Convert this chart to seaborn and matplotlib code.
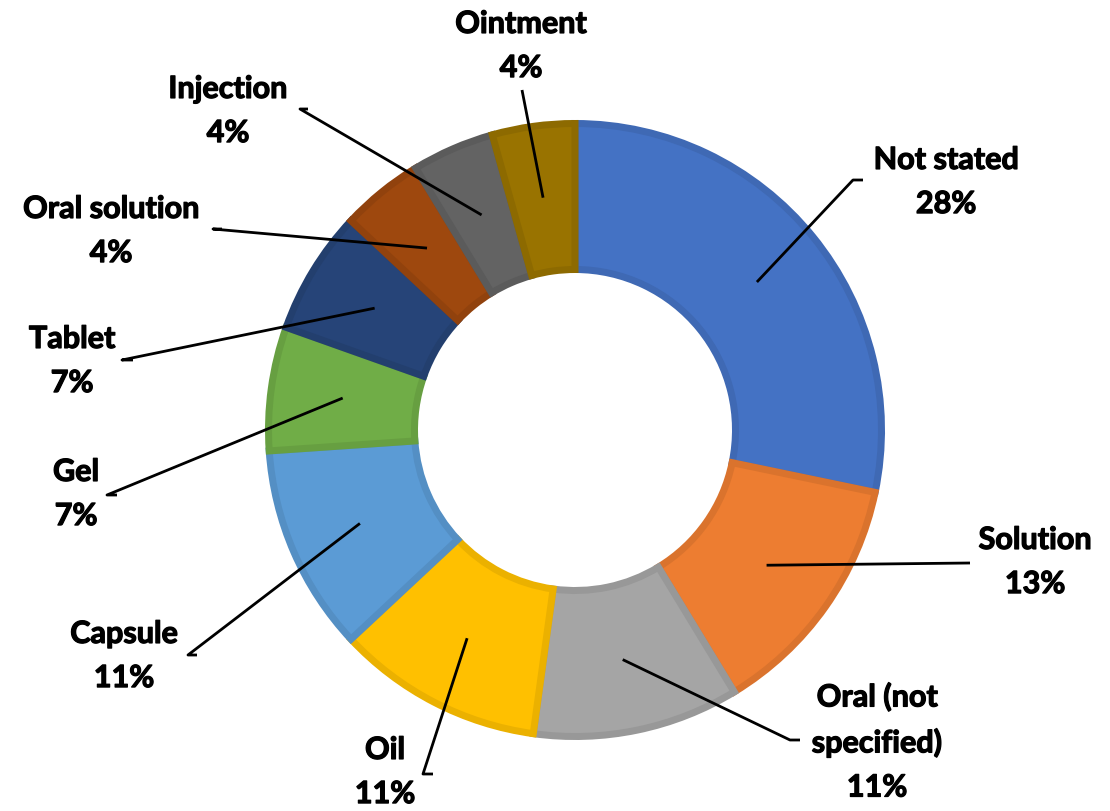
import numpy as np
import matplotlib
matplotlib.use("Agg")
import matplotlib.pyplot as plt
import matplotlib.patheffects as pe
import seaborn as sns

# ---- data ----
categories = ["Not stated", "Solution", "Oral (not\nspecified)", "Oil", "Capsule",
              "Gel", "Tablet", "Oral solution", "Injection", "Ointment"]
counts = [13, 6, 5, 5, 5, 3, 3, 2, 2, 2]
pct_labels = ["28%", "13%", "11%", "11%", "11%", "7%", "7%", "4%", "4%", "4%"]

# ---- styling ----
fill_colors = ["#4472C4", "#ED7D31", "#A5A5A5", "#FFC000", "#5B9BD5",
               "#70AD47", "#264478", "#9E480E", "#636363", "#997300"]

# label layout (pixel coords, y from top): text centre, leader tick start, tick end
text_pos = [(946, 182), (1035, 562), (877, 742), (385, 772), (124, 656),
            (76, 494), (72, 361), (111, 231), (228, 111), (521, 46)]
tick_a = [(863, 180), (970, 563), (800, 740), (433, 774), (197, 655),
          (117, 495), (133, 360), (222, 229), (308, 109), (522, 90)]
tick_b = [(853, 180), (970, 563), (790, 740), (423, 774), (188, 655),
          (107, 495), (122, 360), (213, 229), (300, 109), (522, 90)]

sns.set_theme(style="white")
plt.rcParams["font.family"] = ["Lato", "DejaVu Sans"]

W, H = 1110, 811
fig = plt.figure(figsize=(W / 100, H / 100), dpi=100)
ax = fig.add_axes([0, 0, 1, 1])

cx, cy = 575, H - 430
R, width = 310, 153
lw_px = 7.0  # border stroke width in pixels (= data units)

def darker(c, f=0.92):
    r, g, b = matplotlib.colors.to_rgb(c)
    return (r * f, g * f, b * f)

wedges, _ = ax.pie(counts, colors=fill_colors, startangle=90, counterclock=False,
                   radius=R - lw_px / 2, center=(cx, cy),
                   wedgeprops=dict(width=width - lw_px, linewidth=lw_px * 0.72,
                                   joinstyle="miter"))
for w, c in zip(wedges, fill_colors):
    w.set_edgecolor(darker(c))

ax.set_xlim(0, W)
ax.set_ylim(0, H)
ax.set_aspect("equal")
ax.axis("off")

# leader lines & labels
r_mid = R - width / 2 + 1
for w, cat, pct, tp, ta, tb in zip(wedges, categories, pct_labels, text_pos, tick_a, tick_b):
    ang = np.deg2rad((w.theta1 + w.theta2) / 2)
    px = cx + r_mid * np.cos(ang)
    py = cy + r_mid * np.sin(ang)
    ax.plot([ta[0], tb[0], px], [H - ta[1], H - tb[1], py], color="black", lw=2.0,
            solid_capstyle="butt", zorder=5)
    ax.text(tp[0], H - tp[1], f"{cat}\n{pct}", ha="center", va="center",
            fontsize=22, fontweight="bold", color="black", linespacing=1.7, zorder=6,
            path_effects=[pe.withStroke(linewidth=0.9, foreground="black")])

fig.savefig("out.png", dpi=100)
